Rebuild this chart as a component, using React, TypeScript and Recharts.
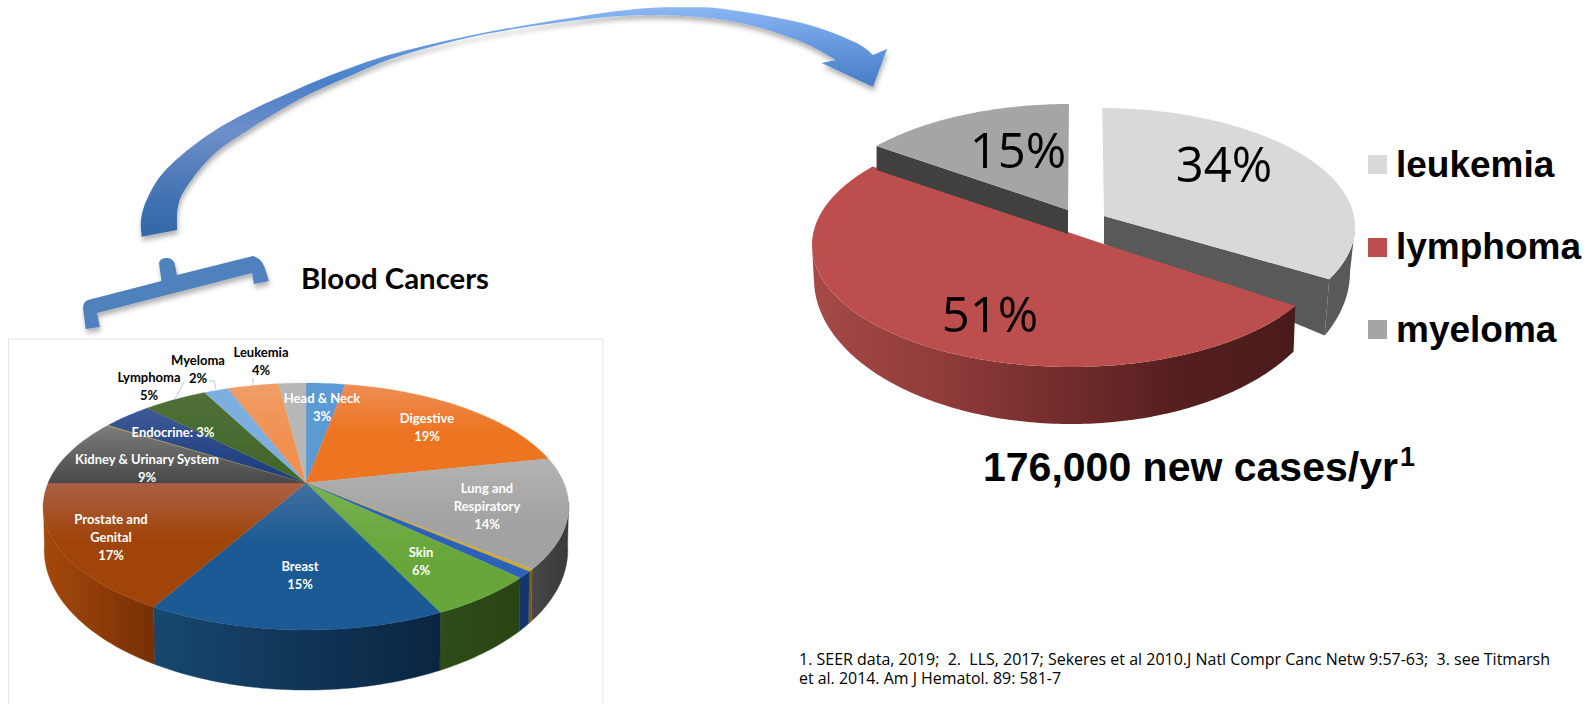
import React from "react";
import { PieChart, Pie } from "recharts";

// ---------- left pie data ----------
const allCategories = ["Head & Neck", "Digestive", "Lung and Respiratory", "Trace A", "Trace B", "Skin", "Breast", "Prostate and Genital", "Kidney & Urinary System", "Trace C", "Endocrine", "Lymphoma", "Myeloma", "Leukemia", "Other"];
const allValues = [2.9, 18.7, 14.4, 0.3, 0.9, 5.7, 15.3, 16.8, 8.9, 0.1, 3.7, 4.7, 1.8, 3.8, 2.0];
const allFaceColors = [["#5b9bd5", "#5b9bd5"], ["#ee8d55", "#ed7420"], ["#b2b2b2", "#a2a2a2"], ["#d2a92c", "#d2a92c"], ["#2c62b8", "#2c62b8"], ["#78b050", "#66a63a"], ["#41709f", "#1b5a94"], ["#ab6044", "#a0440a"], ["#7d7d7d", "#484848"], ["#c9a227", "#c9a227"], ["#3f5a98", "#1e3f80"], ["#4f7038", "#43682b"], ["#7cafdd", "#7cafdd"], ["#f09d68", "#f1904f"], ["#b7b7b7", "#b7b7b7"]];
const allFaceEase = [1, 0.5, 0.6, 1, 1, 0.6, 0.42, 0.45, 1, 1, 0.8, 0.8, 1, 0.6, 1];
const allWallColors = [["#33597c", "#33597c"], ["#8a4413", "#8a4413"], ["#474747", "#3a3a3a"], ["#7a5e10", "#7a5e10"], ["#14366e", "#14366e"], ["#2e4d18", "#284413"], ["#17476f", "#0a2540"], ["#a5480c", "#763004"], ["#444", "#444"], ["#777", "#777"], ["#223", "#223"], ["#283", "#283"], ["#456", "#456"], ["#864", "#864"], ["#666", "#666"]];
const allLabels = [["Head & Neck", "3%"], ["Digestive", "19%"], ["Lung and", "Respiratory", "14%"], [], [], ["Skin", "6%"], ["Breast", "15%"], ["Prostate and", "Genital", "17%"], ["Kidney & Urinary System", "9%"], [], ["Endocrine: 3%"], ["Lymphoma", "5%"], ["Myeloma", "2%"], ["Leukemia", "4%"], []];
const allLabelPlaces = [[322, 398], [427, 418], [487, 488], null, null, [421, 552], [300, 566], [111, 519], [147, 459], null, [173, 432], [149, 377], [198, 360], [261, 352], null];
const allLabelInk = ["#fff", "#fff", "#fff", "#fff", "#fff", "#fff", "#fff", "#fff", "#fff", "#fff", "#fff", "#000", "#000", "#000", "#000"];

// ---------- right pie data ----------
const bloodCategories = ["leukemia", "lymphoma", "myeloma"];
const bloodValues = [34, 51, 15];
const bloodLabels = ["34%", "51%", "15%"];
const bloodColors = ["#d9d9d9", "#bc4f4d", "#a5a5a5"];
const bloodLabelPlaces = [[1224, 163], [990, 313], [1018, 149]];
const bloodLegendY = [155, 238, 320];
const bloodLegendBaseline = [177, 259, 342];

// ---------- projections ----------
type Geo = { cx: number; cy: number; rx: number; ry: number; p: number };
const leftTop: Geo = { cx: 306, cy: 483, rx: 258, ry: 119, p: 0.19 };
const leftBottom: Geo = { cx: 306, cy: 523.4, rx: 257, ry: 135, p: 0.19 };

const bloodGeo = [
  { top: { cx: 1100, cy: 227, rx: 255, ry: 119, p: 0 }, bottom: { cx: 1100, cy: 272, rx: 250, ry: 145, p: 0 }, apex: [1104, 216], apexLow: [1104, 244], from: 0.5, to: 116, wallFrom: 90, wallTo: 116, wall: ["#595959", "#595959"], cutAt: "end", cut: "#595959" },
  { top: { cx: 1071, cy: 245, rx: 259, ry: 122, p: 0 }, bottom: { cx: 1071, cy: 279, rx: 257, ry: 145, p: 0 }, apex: [1103.5, 244], apexLow: [1103.5, 244], from: 120, to: 310, wallFrom: 120, wallTo: 268, wall: ["#4a1b1b", "#a54a47"], cutAt: "", cut: "" },
  { top: { cx: 1069, cy: 226, rx: 255, ry: 122, p: 0 }, bottom: { cx: 1069, cy: 250, rx: 255, ry: 122, p: 0 }, apex: [1068, 210], apexLow: [1068, 234], from: 311, to: 360, wallFrom: 0, wallTo: 0, wall: ["#404040", "#404040"], cutAt: "start", cut: "#404040" },
];

const project = (g: Geo, deg: number) => {
  const t = (deg * Math.PI) / 180;
  const u = Math.sin(t);
  const v = -Math.cos(t);
  const w = 1 - g.p * v;
  return [g.cx + (g.rx * u) / w, g.cy + (g.ry * v) / w];
};
const sweep = (g: Geo, a: number, b: number) => {
  const n = Math.max(2, Math.ceil(Math.abs(b - a)));
  const out: number[][] = [];
  for (let i = 0; i <= n; i++) out.push(project(g, a + ((b - a) * i) / n));
  return out;
};
const toPath = (pts: number[][]) => "M" + pts.map((p) => `${p[0].toFixed(2)} ${p[1].toFixed(2)}`).join("L") + "Z";

const AllSlice = (props: any) => {
  const i = allCategories.indexOf(props.name ?? props.payload?.name);
  const a = 90 - props.startAngle;
  const b = 90 - props.endAngle;
  const top = sweep(leftTop, a, b);
  const w1 = Math.max(a, 99);
  const w2 = Math.min(b, 261);
  const id = `all${i}`;
  return (
    <g>
      <defs>
        <linearGradient id={`${id}f`} x1="0" y1="0" x2="0" y2="1">
          <stop offset="0" stopColor={allFaceColors[i][0]} />
          <stop offset={allFaceEase[i]} stopColor={allFaceColors[i][1]} />
        </linearGradient>
        <linearGradient id={`${id}w`} x1="0" y1="0" x2="1" y2="0">
          <stop offset="0" stopColor={allWallColors[i][0]} />
          <stop offset="1" stopColor={allWallColors[i][1]} />
        </linearGradient>
      </defs>
      {w2 > w1 && (
        <path d={toPath([...sweep(leftTop, w1, w2), ...sweep(leftBottom, w2, w1)])} fill={`url(#${id}w)`} stroke={`url(#${id}w)`} strokeWidth={0.4} />
      )}
      <path d={toPath([[leftTop.cx, leftTop.cy], ...top])} fill={`url(#${id}f)`} stroke={`url(#${id}f)`} strokeWidth={0.3} />
    </g>
  );
};

const BloodSlice = (props: any) => {
  const i = bloodCategories.indexOf(props.name ?? props.payload?.name);
  const g = bloodGeo[i];
  const a = 90 - props.startAngle;
  const b = 90 - props.endAngle;
  // library angles, eased onto the drawn rim of this exploded wedge
  const span = (t: number) => g.from + ((t - a) / (b - a)) * (g.to - g.from);
  const top = sweep(g.top, span(a), span(b));
  const id = `blood${i}`;
  const cutRim = g.cutAt === "end" ? top[top.length - 1] : top[0];
  const cutLow = g.cutAt === "end" ? project(g.bottom, g.to) : project(g.bottom, g.from);
  return (
    <g>
      <defs>
        <linearGradient id={`${id}w`} x1="0" y1="0" x2="1" y2="0">
          <stop offset="0" stopColor={g.wall[1]} />
          <stop offset="0.3" stopColor={i === 1 ? "#8c3a38" : g.wall[1]} />
          <stop offset="0.75" stopColor={i === 1 ? "#561f1f" : g.wall[0]} />
          <stop offset="1" stopColor={g.wall[0]} />
        </linearGradient>
      </defs>
      {g.cutAt && <path d={toPath([g.apex, cutRim, cutLow, g.apexLow])} fill={g.cut} />}
      {g.wallTo > g.wallFrom && (
        <path d={toPath([...sweep(g.top, g.wallFrom, g.wallTo), ...sweep(g.bottom, g.wallTo, g.wallFrom)])} fill={`url(#${id}w)`} />
      )}
      <path d={toPath([g.apex, ...top])} fill={bloodColors[i]} />
    </g>
  );
};

const allLabel = (props: any) => {
  const i = props.index;
  const place = allLabelPlaces[i];
  if (!place) return <g />;
  return (
    <text x={place[0]} textAnchor="middle" fontFamily="Lato" fontWeight={700} fontSize={13} fill={allLabelInk[i]}>
      {allLabels[i].map((line, k) => (
        <tspan key={k} x={place[0]} y={place[1] + k * 18} dominantBaseline="central">{line}</tspan>
      ))}
    </text>
  );
};
const bloodLabel = (props: any) => {
  const i = props.index;
  return (
    <text x={bloodLabelPlaces[i][0]} y={bloodLabelPlaces[i][1]} textAnchor="middle" dominantBaseline="central" fontFamily="Open Sans" fontSize={49} fill="#000">
      {bloodLabels[i]}
    </text>
  );
};

// ---------- decoration ----------
const smooth = (pts: number[][]) => {
  let d = `M${pts[0][0]} ${pts[0][1]}`;
  for (let i = 0; i < pts.length - 1; i++) {
    const p0 = pts[Math.max(0, i - 1)];
    const p1 = pts[i];
    const p2 = pts[i + 1];
    const p3 = pts[Math.min(pts.length - 1, i + 2)];
    d += `C${p1[0] + (p2[0] - p0[0]) / 6} ${p1[1] + (p2[1] - p0[1]) / 6} ${p2[0] - (p3[0] - p1[0]) / 6} ${p2[1] - (p3[1] - p1[1]) / 6} ${p2[0]} ${p2[1]}`;
  }
  return d;
};
const arrowOuter = [[141.7, 236.7], [141, 220], [146.7, 200], [163, 173], [196.7, 143], [240, 116], [300, 88], [350, 68], [400, 52], [483, 33], [583, 16], [645, 8.3], [687, 7.3], [724, 9], [802, 23], [854.5, 42], [873, 55]];
const arrowInner = [[836, 60], [802, 42], [750, 25], [700, 17], [645, 15], [583, 19.5], [483, 34.5], [400, 56], [350, 76], [300, 99], [246.7, 131], [213, 155], [186.7, 186.7], [178, 206.7], [177, 230]];
const arrowPath = smooth(arrowOuter) + "L887 49L873 87L821.6 63" + smooth(arrowInner).replace("M", "L") + "Z";
const bracketPath = "M85.7 329L100 327L97 313L252 273L254 284L269 281L264.5 267Q261 258 253 256L177 275L174.6 263Q172 258 166.8 258Q160 258 159 263L161.5 281L88 300Q83 302 83 308Z";

const allData = allCategories.map((name, i) => ({ name, value: allValues[i] }));
const bloodData = bloodCategories.map((name, i) => ({ name, value: bloodValues[i] }));

export default function App() {
  return (
    <div style={{ position: "absolute", left: 0, top: 0, width: 1593, height: 704, background: "#fff", overflow: "hidden" }}>
      <PieChart width={1593} height={704} margin={{ top: 0, right: 0, bottom: 0, left: 0 }}>
        <defs>
          <linearGradient id="arrowFill" gradientUnits="userSpaceOnUse" x1="0" y1="5" x2="0" y2="237">
            <stop offset="0" stopColor="#8db8f5" />
            <stop offset="0.15" stopColor="#6a9ce0" />
            <stop offset="0.33" stopColor="#4a80c8" />
            <stop offset="0.55" stopColor="#6d8fc8" />
            <stop offset="0.85" stopColor="#3f70b0" />
            <stop offset="1" stopColor="#3369a8" />
          </linearGradient>
          <filter id="softShadow" x="-5%" y="-5%" width="110%" height="115%">
            <feDropShadow dx="1" dy="4" stdDeviation="2.5" floodColor="#000" floodOpacity="0.3" />
          </filter>
        </defs>
        <path d={arrowPath} fill="url(#arrowFill)" filter="url(#softShadow)" />
        <path d={bracketPath} fill="#4f81bd" filter="url(#softShadow)" />
        <text x={301} y={289} fontFamily="Lato" fontWeight={700} fontSize={29} textLength={188} lengthAdjust="spacingAndGlyphs" fill="#000">Blood Cancers</text>
        <path d="M603 339H8.5V704M603 339V704" fill="none" stroke="#e4e4e4" strokeWidth={1} />

        <Pie data={allData} dataKey="value" nameKey="name" cx={306} cy={483} outerRadius={258} startAngle={90} endAngle={-270} stroke="none" isAnimationActive={false} shape={AllSlice} inactiveShape={AllSlice} activeShape={AllSlice} label={allLabel} labelLine={false} />
        <text x={298.5} y={494} textAnchor="middle" dominantBaseline="central" fontFamily="Lato" fontWeight={700} fontSize={14} fill="#fff">All Cancers: 2017</text>
        <path d="M253 378V385M209 381H214L216 389M184 382L175 399" fill="none" stroke="#b9cbdd" strokeWidth={1} />

        <Pie data={bloodData} dataKey="value" nameKey="name" cx={1103} cy={244} outerRadius={250} startAngle={90} endAngle={-270} stroke="none" isAnimationActive={false} shape={BloodSlice} inactiveShape={BloodSlice} activeShape={BloodSlice} label={bloodLabel} labelLine={false} />

        {bloodCategories.map((name, i) => (
          <g key={name}>
            <rect x={1368} y={bloodLegendY[i]} width={19} height={19} fill={bloodColors[i]} />
            <text x={1396} y={bloodLegendBaseline[i]} fontFamily="Liberation Sans" fontWeight={700} fontSize={37} fill="#000">{name}</text>
          </g>
        ))}
        <text x={983} y={481} fontFamily="Liberation Sans" fontWeight={700} fontSize={41} fill="#000">176,000 new cases/yr</text>
        <text x={1400} y={466} fontFamily="Liberation Sans" fontWeight={700} fontSize={27} fill="#000">1</text>
        <text x={799} y={665} fontFamily="Open Sans" fontSize={15.5} textLength={751} lengthAdjust="spacingAndGlyphs" style={{ whiteSpace: "pre" }} fill="#000">1. SEER data, 2019;  2.  LLS, 2017; Sekeres et al 2010.J Natl Compr Canc Netw 9:57-63;  3. see Titmarsh</text>
        <text x={799} y={684} fontFamily="Open Sans" fontSize={15.5} textLength={262} lengthAdjust="spacingAndGlyphs" fill="#000">et al. 2014. Am J Hematol. 89: 581-7</text>
      </PieChart>
    </div>
  );
}
